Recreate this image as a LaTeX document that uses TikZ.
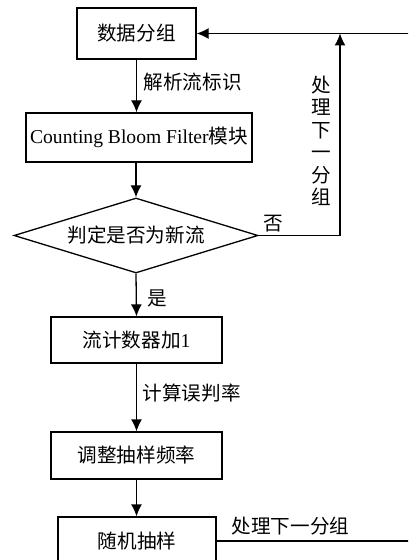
\documentclass[tikz,border=0pt]{standalone}
\usepackage{fontspec}
\setmainfont{Liberation Serif}
\newfontfamily\cjk{Noto Sans CJK SC}
\usetikzlibrary{shapes.geometric,arrows.meta}

\begin{document}
\begin{tikzpicture}[x=0.5pt, y=-0.5pt, >={Latex[length=6pt,width=5.5pt]}, line width=0.65pt,
	box/.style={rectangle, draw=black, line width=0.65pt, inner sep=0pt, font=\fontsize{9.8}{11}\selectfont\cjk},
	decision/.style={diamond, draw=black, line width=0.65pt, inner sep=0pt, aspect=3.25, font=\fontsize{9.8}{11}\selectfont\cjk},
	lbl/.style={inner sep=0pt, font=\fontsize{9.8}{11}\selectfont\cjk}]
	\clip (0,0) rectangle (408,560);
	% flow boxes
	\node [box, minimum width=59.5pt, minimum height=25.5pt] (packet) at (136.5,33.5) {数据分组};
	\node [box, minimum width=113pt, minimum height=24.5pt] (cbf) at (139,137.5) {\rmfamily Counting Bloom Filter\cjk 模块};
	\node [decision, minimum width=122pt, minimum height=37.5pt] (judge) at (136,235.5) {判定是否为新流};
	\node [box, minimum width=85.5pt, minimum height=23pt] (count) at (136.5,340) {流计数器加\rmfamily 1};
	\node [box, minimum width=85.5pt, minimum height=23.5pt] (adjust) at (136.5,455.5) {调整抽样频率};
	\node [box, minimum width=79pt, minimum height=24pt] (sample) at (137,541) {随机抽样};
	% labels
	\node [lbl, anchor=west] (parse) at (143,82) {解析流标识};
	\node [lbl, anchor=west] (yes) at (147,298) {是};
	\node [lbl, anchor=west] (no) at (263,224) {否};
	\node [lbl, anchor=west] (calc) at (142,393) {计算误判率};
	\node [lbl, anchor=west] (next) at (231,526) {处理下一分组};
	\node [lbl, align=center, font=\fontsize{9.8}{11.25}\selectfont\cjk] (nextv) at (321,141) {处\\理\\下\\一\\分\\组};
	\coordinate (loop) at (340,33.5);
	\coordinate (edge) at (420,33.5);
	% connectors
	\draw [->] (packet.south) -- (packet.south |- cbf.north);
	\draw [->] (cbf.south -| judge.north) -- (judge.north);
	\draw [->] (judge.south) -- (count.north);
	\draw [->] (count.south) -- (adjust.north);
	\draw [->] (adjust.south) -- (adjust.south |- sample.north);
	\draw [->] (judge.east) -| (loop);
	\draw [->] (sample.east) -| (edge) -- (packet.east);
\end{tikzpicture}
\end{document}
